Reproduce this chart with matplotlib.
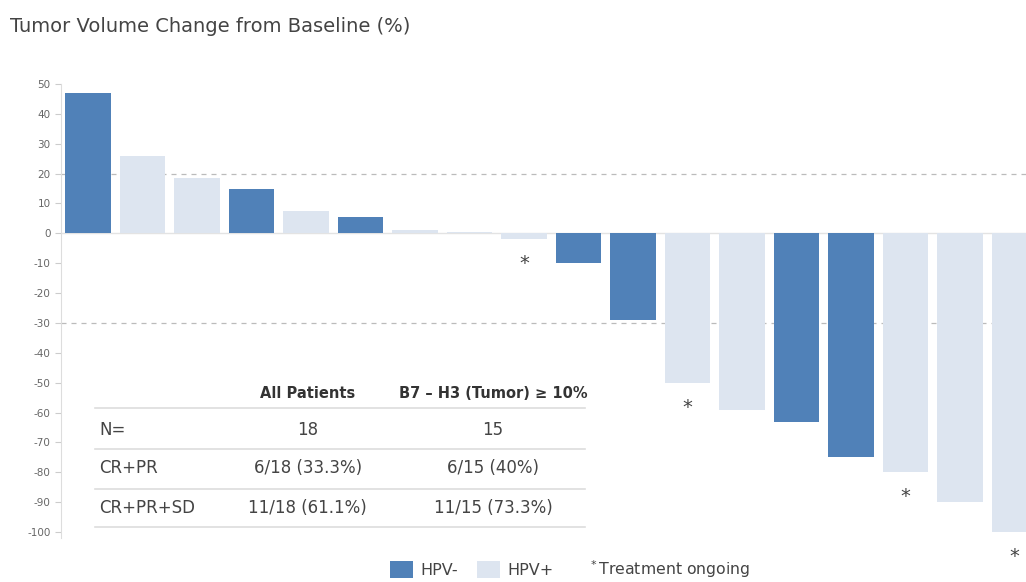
import matplotlib
matplotlib.use("Agg")
import matplotlib.pyplot as plt
from matplotlib.patches import Patch

# -----------------------
# Data
# -----------------------
values = [47, 26, 18.5, 15, 7.5, 5.5, 1, 0.5, -2, -10, -29, -50, -59, -63, -75, -80, -90, -100]
hpv_neg = [1, 0, 0, 1, 0, 1, 0, 0, 0, 1, 1, 0, 0, 1, 1, 0, 0, 0]
ongoing = [0, 0, 0, 0, 0, 0, 0, 0, 1, 0, 0, 1, 0, 0, 0, 1, 0, 1]

table_cols = ["All Patients", "B7 \u2013 H3 (Tumor) \u2265 10%"]
table_rows = ["N=", "CR+PR", "CR+PR+SD"]
table_all = ["18", "6/18 (33.3%)", "11/18 (61.1%)"]
table_b7 = ["15", "6/15 (40%)", "11/15 (73.3%)"]

DARK = "#5081b8"
LIGHT = "#dde5f0"
TXT = "#444444"

plt.rcParams["font.family"] = ["DejaVu Sans"]
plt.rcParams["axes.unicode_minus"] = False

fig = plt.figure(figsize=(10.26, 5.82), dpi=100)
ax = fig.add_axes([0.0595, 0.0756, 0.9405, 0.7801])

x = list(range(len(values)))
colors = [DARK if h else LIGHT for h in hpv_neg]
ax.bar(x, values, width=0.83, color=colors, zorder=2)

# asterisks below ongoing bars
for i, (v, o) in enumerate(zip(values, ongoing)):
    if o:
        ax.text(i, min(v, 0) - 5, "*", ha="center", va="top", fontsize=14,
                color=TXT, clip_on=False)

# reference lines
for yref in [20, -30]:
    ax.axhline(yref, color="#bbbbbb", linestyle=(0, (4, 4)), linewidth=0.9, zorder=1)
ax.axhline(0, color="#e3e3e3", linewidth=1, zorder=1)

ax.set_xlim(-0.495, 17.21)
ax.set_ylim(-102, 50)
ax.set_yticks(range(-100, 51, 10))
ax.tick_params(axis="y", labelsize=7.5, colors="#666666", length=4, width=0.8,
               color="#cccccc")
ax.set_xticks([])
for s in ["top", "right", "bottom"]:
    ax.spines[s].set_visible(False)
ax.spines["left"].set_color("#dddddd")
ax.spines["left"].set_bounds(-102, 50)

# summary table
x0, x1 = 0.13, 9.12
c1, c2 = 4.03, 7.43
ax.text(c1, -53.5, table_cols[0], ha="center", va="center", fontsize=10.5,
        fontweight="bold", color="#333333")
ax.text(c2, -53.5, table_cols[1], ha="center", va="center", fontsize=10.5,
        fontweight="bold", color="#333333")
row_y = [-65.9, -78.6, -92.0]
line_y = [-58.5, -72.2, -85.6, -98.3]
for yl in line_y:
    ax.plot([x0, x1], [yl, yl], color="#dddddd", linewidth=1.2, zorder=1)
for lab, a, b, yy in zip(table_rows, table_all, table_b7, row_y):
    ax.text(x0 + 0.08, yy, lab, ha="left", va="center", fontsize=12, color=TXT)
    ax.text(c1, yy, a, ha="center", va="center", fontsize=12, color=TXT)
    ax.text(c2, yy, b, ha="center", va="center", fontsize=12, color=TXT)

# title
fig.text(0.01, 0.955, "Tumor Volume Change from Baseline (%)", fontsize=14,
         color=TXT, ha="left", va="center")

# legend
handles = [Patch(facecolor=DARK, label="HPV-"), Patch(facecolor=LIGHT, label="HPV+")]
fig.legend(handles=handles, loc="center left", bbox_to_anchor=(0.372, 0.022),
           ncol=2, frameon=False, fontsize=11.5, handlelength=1.45, handleheight=1.25,
           columnspacing=1.2, handletextpad=0.45, labelcolor=TXT, borderpad=0)
fig.text(0.573, 0.022, "$^*$Treatment ongoing", fontsize=11.3, color=TXT,
         ha="left", va="center")

fig.savefig("out.png", dpi=100)
